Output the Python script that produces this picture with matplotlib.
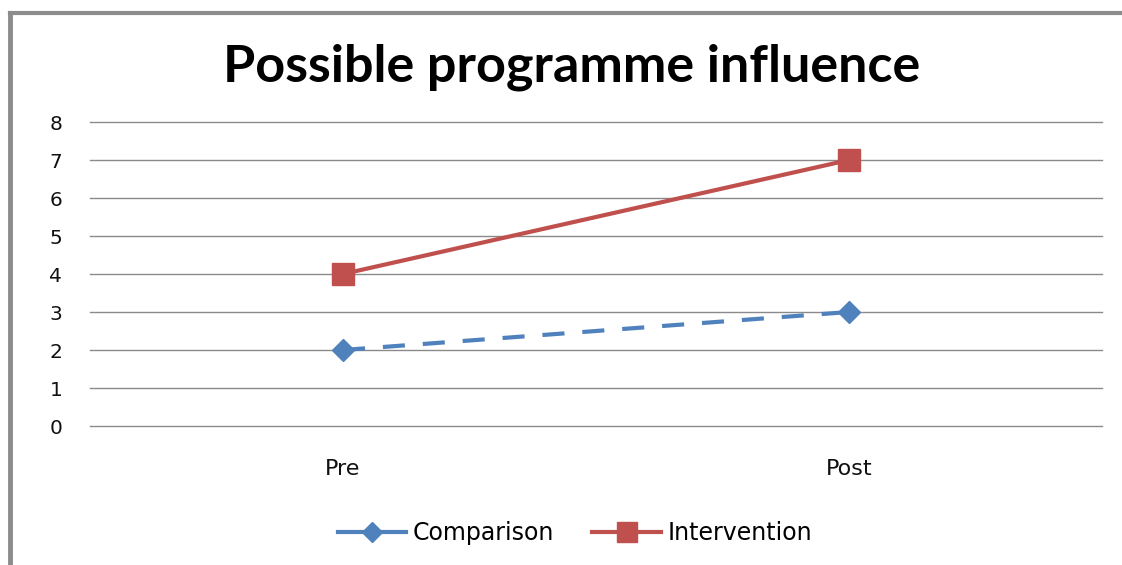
import matplotlib.pyplot as plt
from matplotlib.lines import Line2D

categories = ["Pre", "Post"]
comparison = [2, 3]
intervention = [4, 7]
yticks = [0, 1, 2, 3, 4, 5, 6, 7, 8]

fig = plt.figure(figsize=(11.22, 5.65), dpi=100)
ax = fig.add_axes([90 / 1122, 1 - 426 / 565, 1012 / 1122, 304 / 565])

x = list(range(len(categories)))
ax.plot(x, comparison, color="#4F81BD", linestyle=(0, (5.3, 4.3)), linewidth=3,
        marker="D", markersize=11, label="Comparison", zorder=3)
ax.plot(x, intervention, color="#C0504D", linewidth=3,
        marker="s", markersize=16, label="Intervention", zorder=3)

ax.set_xlim(-0.5, 1.5)
ax.set_ylim(0, 8)
ax.set_yticks(yticks)
ax.set_xticks(x)
ax.set_xticklabels(categories)
ax.tick_params(length=0, colors="#111111")
ax.tick_params(axis="y", pad=20, labelsize=14.5)
ax.tick_params(axis="x", pad=24, labelsize=16)
ax.yaxis.grid(True, color="#8a8a8a", linewidth=1.0)
for gl in ax.get_ygridlines():
    gl.set_clip_on(False)
ax.set_axisbelow(True)
for s in ax.spines.values():
    s.set_visible(False)

fig.text(572 / 1122, 1 - 67 / 565, "Possible programme influence",
         ha="center", va="center", fontsize=37.5, fontweight="bold", family="Lato")

handles = [Line2D([0], [0], color="#4F81BD", linewidth=3, marker="D", markersize=10),
           Line2D([0], [0], color="#C0504D", linewidth=3, marker="s", markersize=14)]
fig.legend(handles, ["Comparison", "Intervention"], loc="center",
           bbox_to_anchor=(575 / 1122, 1 - 533 / 565), ncol=2, frameon=False,
           fontsize=17, handlelength=2.9, handletextpad=0.3, columnspacing=1.6)

# outer frame (left and top edges visible)
fig.add_artist(Line2D([10 / 1122, 10 / 1122], [0, 1 - 13 / 565], color="#8c8c8c", linewidth=3.5))
fig.add_artist(Line2D([10 / 1122, 1], [1 - 13 / 565, 1 - 13 / 565], color="#8c8c8c", linewidth=3))

fig.savefig("out.png", dpi=100)
